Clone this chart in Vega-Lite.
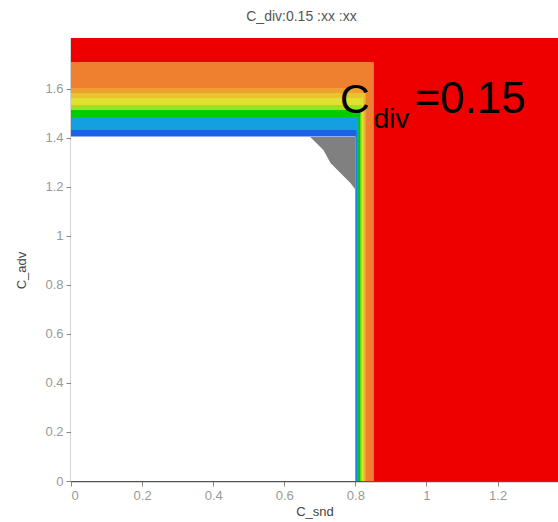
{
  "$schema": "https://vega.github.io/schema/vega-lite/v6.json",
  "autosize": {"type": "none"},
  "padding": {"left": 71, "top": 38, "right": 0, "bottom": 41},
  "width": 487,
  "height": 443,
  "background": "white",
  "config": {
    "view": {"stroke": null},
    "font": "Liberation Sans",
    "axis": {
      "grid": false,
      "domainColor": "#555555",
      "domainWidth": 1.5,
      "tickColor": "#888888",
      "tickSize": 5,
      "labelColor": "#999999",
      "labelFontSize": 13,
      "labelFont": "Liberation Sans",
      "titleColor": "#444444",
      "titleFontSize": 13,
      "titleFontWeight": "normal",
      "titleFont": "Liberation Sans",
      "format": "~g"
    }
  },
  "title": {
    "text": "C_div:0.15 :xx :xx",
    "fontSize": 14,
    "fontWeight": "normal",
    "color": "#555555",
    "font": "Liberation Sans",
    "dx": -13,
    "offset": 14
  },
  "datasets": {
    "bands": [
      {"level": "L0", "xmax": 1.37, "ymax": 1.81},
      {"level": "L1", "xmax": 0.852, "ymax": 1.71},
      {"level": "L2", "xmax": 0.83, "ymax": 1.604},
      {"level": "L3", "xmax": 0.826, "ymax": 1.584},
      {"level": "L4", "xmax": 0.822, "ymax": 1.563},
      {"level": "L5", "xmax": 0.818, "ymax": 1.535},
      {"level": "L6", "xmax": 0.814, "ymax": 1.514},
      {"level": "L7", "xmax": 0.808, "ymax": 1.486},
      {"level": "L8", "xmax": 0.803, "ymax": 1.433},
      {"level": "L9", "xmax": 0.8, "ymax": 1.406}
    ],
    "gray": [
      {"x": 0.673, "y": 1.404},
      {"x": 0.71, "y": 1.351},
      {"x": 0.73, "y": 1.298},
      {"x": 0.758, "y": 1.257},
      {"x": 0.786, "y": 1.216},
      {"x": 0.8, "y": 1.19}
    ],
    "labels": [
      {"part": "C", "text": "C", "x": 0.757, "y": 1.502},
      {"part": "sub", "text": "div", "x": 0.851, "y": 1.44},
      {"part": "val", "text": "=0.15", "x": 0.966, "y": 1.502}
    ]
  },
  "layer": [
    {
      "data": {"name": "bands"},
      "mark": {"type": "rect", "clip": true},
      "encoding": {
        "x": {"field": "xmax", "type": "quantitative",
              "scale": {"domain": [0, 1.37], "nice": false, "zero": false},
              "axis": {"title": "C_snd", "values": [0, 0.2, 0.4, 0.6, 0.8, 1, 1.2], "labelPadding": 3, "titlePadding": 3}},
        "x2": {"datum": 0},
        "y": {"field": "ymax", "type": "quantitative",
              "scale": {"domain": [0, 1.808], "nice": false, "zero": false},
              "axis": {"title": "C_adv", "values": [0, 0.2, 0.4, 0.6, 0.8, 1, 1.2, 1.4, 1.6], "labelPadding": 3, "titleX": -43, "titleY": 232}},
        "y2": {"datum": 0},
        "color": {"field": "level", "type": "nominal", "legend": null,
                  "scale": {"domain": ["L0", "L1", "L2", "L3", "L4", "L5", "L6", "L7", "L8", "L9"],
                            "range": ["#EE0000", "#EE8030", "#F0A030", "#E8C530", "#E0E030", "#A0E020", "#00CC00", "#14A0E0", "#2060E8", "#FFFFFF"]}}
      }
    },
    {
      "data": {"name": "gray"},
      "mark": {"type": "area", "color": "#808080", "opacity": 1},
      "encoding": {
        "x": {"field": "x", "type": "quantitative"},
        "y": {"field": "y", "type": "quantitative"},
        "y2": {"datum": 1.404}
      }
    },
    {
      "data": {"name": "labels"},
      "transform": [{"filter": "datum.part === 'C'"}],
      "mark": {"type": "text", "align": "left", "baseline": "alphabetic", "fontSize": 41, "color": "black", "font": "Liberation Sans"},
      "encoding": {
        "x": {"field": "x", "type": "quantitative"},
        "y": {"field": "y", "type": "quantitative"},
        "text": {"field": "text"}
      }
    },
    {
      "data": {"name": "labels"},
      "transform": [{"filter": "datum.part === 'sub'"}],
      "mark": {"type": "text", "align": "left", "baseline": "alphabetic", "fontSize": 28, "color": "black", "font": "Liberation Sans"},
      "encoding": {
        "x": {"field": "x", "type": "quantitative"},
        "y": {"field": "y", "type": "quantitative"},
        "text": {"field": "text"}
      }
    },
    {
      "data": {"name": "labels"},
      "transform": [{"filter": "datum.part === 'val'"}],
      "mark": {"type": "text", "align": "left", "baseline": "alphabetic", "fontSize": 44, "color": "black", "font": "Liberation Sans"},
      "encoding": {
        "x": {"field": "x", "type": "quantitative"},
        "y": {"field": "y", "type": "quantitative"},
        "text": {"field": "text"}
      }
    }
  ]
}
